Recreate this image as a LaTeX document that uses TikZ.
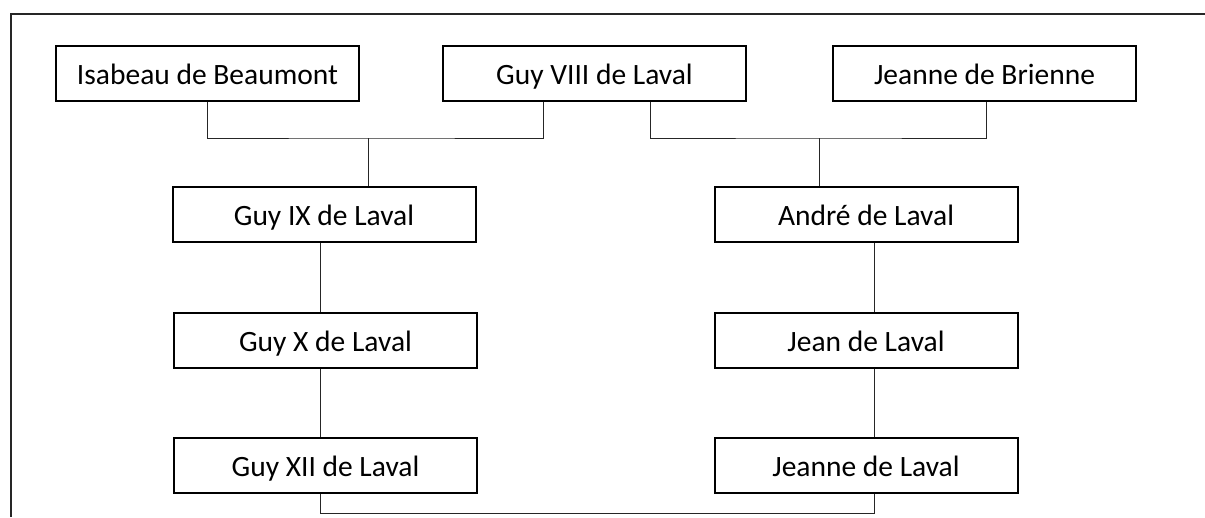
\documentclass[tikz,border=0pt]{standalone}
\usepackage{fontspec}
\setmainfont{Carlito}
\begin{document}
\begin{tikzpicture}[x=1pt,y=-1pt,
  person/.style={draw=black, line width=2pt, fill=white, inner sep=0pt,
    minimum width=303pt, minimum height=55pt,
    text height=26pt, text depth=4pt,
    font=\fontsize{29.5}{34}\selectfont},
  link/.style={draw=black!85, line width=1pt},
  frame/.style={draw=black!85, line width=1.6pt}]
\useasboundingbox (0,0) rectangle (1205,517);
\draw[frame] (11,517) -- (11,14) -- (1205,14);

\node[person] (isa) at (207.5,73.5) {Isabeau de Beaumont};
\node[person] (g8)  at (594.5,73.5) {Guy VIII de Laval};
\node[person] (jb)  at (984.5,73.5) {Jeanne de Brienne};
\node[person] (g9)  at (324,214.5) {Guy IX de Laval};
\node[person] (g10) at (325.5,340) {Guy X de Laval};
\node[person] (g12) at (325.5,465.5) {Guy XII de Laval};
\node[person] (an)  at (866,214.5) {André de Laval};
\node[person] (jn)  at (866,340) {Jean de Laval};
\node[person] (jl)  at (866,465.5) {Jeanne de Laval};

\coordinate (j1) at (368,138);
\coordinate (j2) at (819,138);
\coordinate (xl) at (320,0);
\coordinate (xr) at (874,0);
\coordinate (bl) at (320,513);

\draw[link] (isa.south) |- (j1) -| ([xshift=-51.5pt]g8.south);
\draw[link] (j1) -- (j1 |- g9.north);
\draw[link] ([xshift=55.5pt]g8.south) |- (j2) -| ([xshift=1.5pt]jb.south);
\draw[link] (j2) -- (j2 |- an.north);

\draw[link] (g9.south -| xl) -- (g10.north -| xl);
\draw[link] (g10.south -| xl) -- (g12.north -| xl);
\draw[link] (an.south -| xr) -- (jn.north -| xr);
\draw[link] (jn.south -| xr) -- (jl.north -| xr);
\draw[link] (g12.south -| xl) -- (bl) -- (bl -| xr) -- (jl.south -| xr);
\end{tikzpicture}
\end{document}
